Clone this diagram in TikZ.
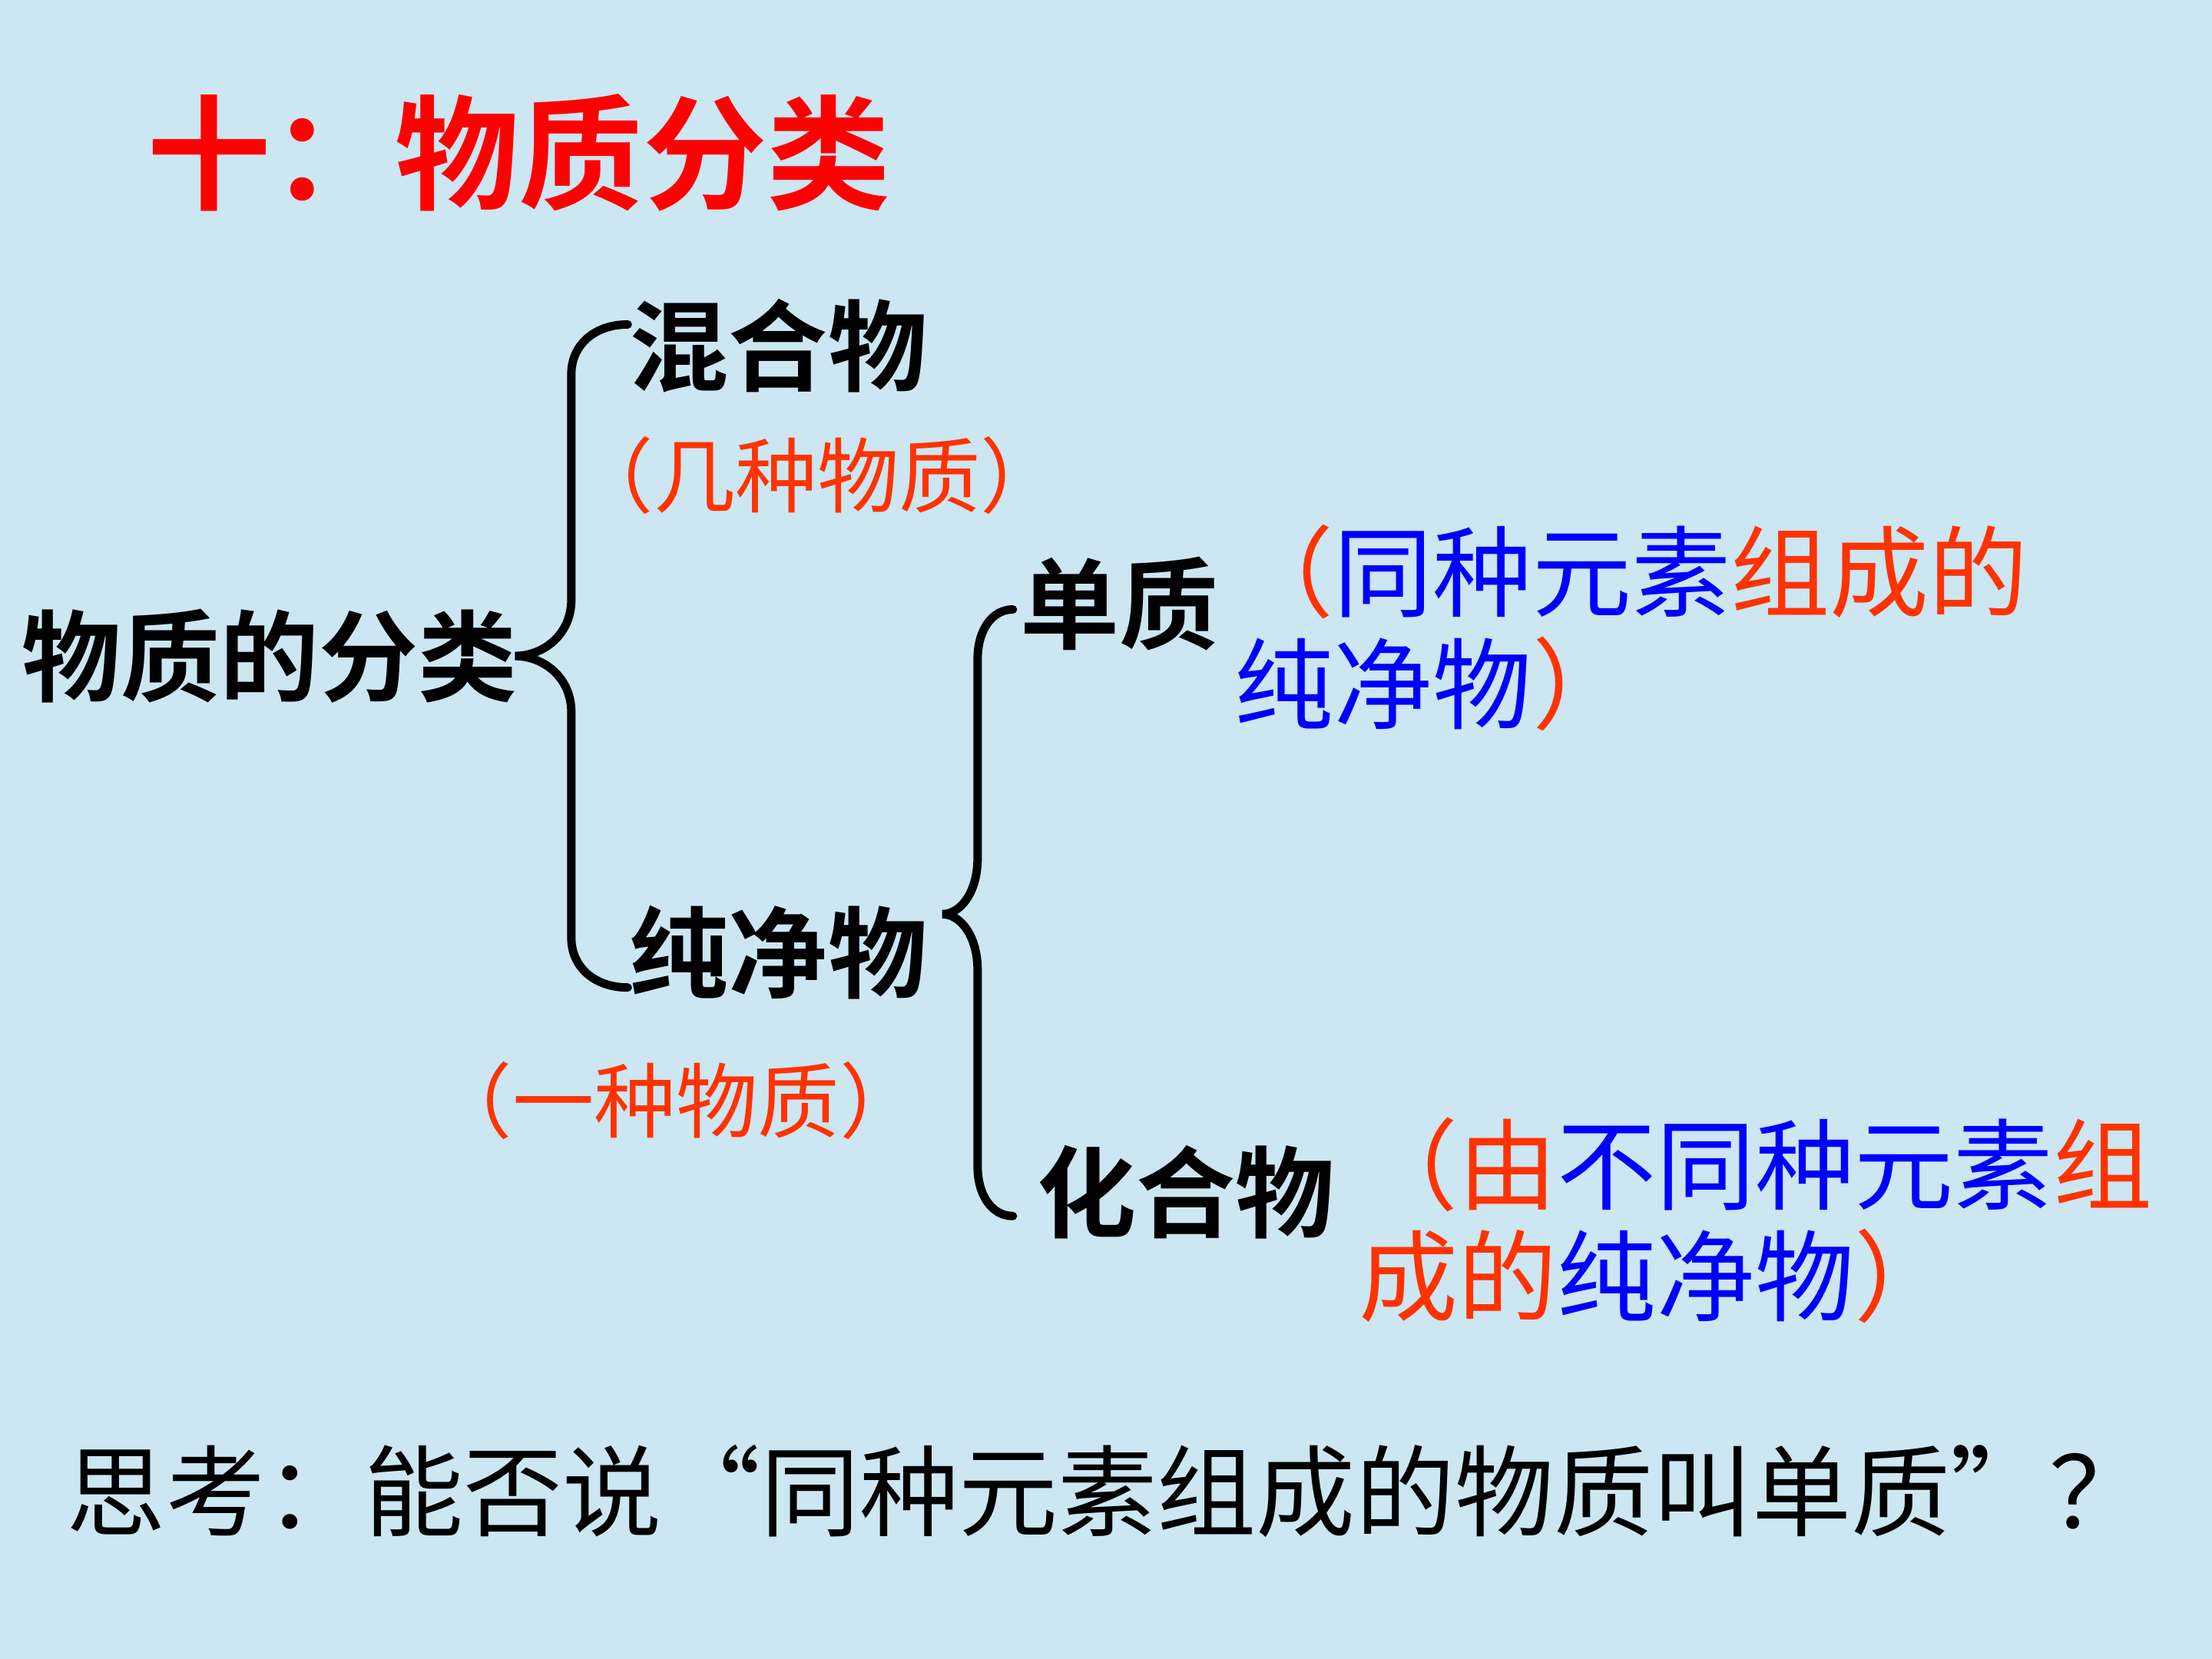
\documentclass[tikz,border=0pt]{standalone}
\usepackage{fontspec}
\usepackage{tikz}
\usetikzlibrary{calc}
\newfontfamily\cjk[BoldFont={Noto Sans CJK SC Bold}]{Noto Sans CJK SC}
\definecolor{slidebg}{RGB}{204,230,242}
\definecolor{titlered}{RGB}{255,0,0}
\definecolor{noteorange}{RGB}{255,51,0}
\definecolor{noteblue}{RGB}{0,0,255}

\begin{document}
\begin{tikzpicture}[x=.02cm,y=-.02cm,
  head/.style={inner sep=0pt,anchor=west,font=\cjk\bfseries\fontsize{40}{40}\selectfont},
  note/.style={inner sep=0pt,anchor=west,align=left,text=noteorange,font=\cjk\fontsize{40}{45}\selectfont},
  smallnote/.style={inner sep=0pt,anchor=west,text=noteorange,font=\cjk\fontsize{33}{33}\selectfont},
  brace/.style={line width=3.4pt,line cap=round}]
\fill[slidebg] (0,0) rectangle (1568,1176);
\useasboundingbox (0,0) rectangle (1568,1176);
% title
\node[inner sep=0pt,anchor=west,text=titlered,font=\cjk\bfseries\fontsize{50}{50}\selectfont] (title) at (104,108) {十：物质分类};
% tree
\node[head] (cls) at (15,465) {物质的分类};
\node[head] (mix) at (446,245) {混合物};
\node[smallnote] (mixnote) at (405,337) {（几种物质）};
\node[head] (pure) at (446,675) {纯净物};
\node[smallnote] (purenote) at (305,780) {（一种物质）};
\node[head] (elem) at (723,428) {单质};
\node[note] (elemnote) at (875,445) {（\textcolor{noteblue}{同种元素}组成的\\\textcolor{noteblue}{纯净物}）};
\node[head] (comp) at (735,845) {化合物};
\node[note] (compnote) at (963,865) {（由\textcolor{noteblue}{不同种元素}组\\成的\textcolor{noteblue}{纯净物}）};
% braces
\coordinate (t1) at (445,230); \coordinate (m1) at (365,465); \coordinate (e1) at (445,700);
\coordinate (t2) at (718,432); \coordinate (m2) at (668,648); \coordinate (e2) at (718,862);
\foreach \t/\m/\e/\w in {t1/m1/e1/40,t2/m2/e2/25}
  \draw[brace] (\t) .. controls +(-\w*0.6,0) and +(0,-20) .. ++(-\w,35) -- ($(\m)+(\w,-40)$) .. controls +(0,25) and +(\w*0.5,0) .. (\m) .. controls +(\w*0.5,0) and +(0,-25) .. ++(\w,40) -- ($(\e)+(-\w,-35)$) .. controls +(0,20) and +(-\w*0.6,0) .. (\e);
% question
\node[inner sep=0pt,anchor=west,font=\cjk\fontsize{40}{40}\selectfont] (think) at (47,1057) {思考：能否说“同种元素组成的物质叫单质”？};
\end{tikzpicture}
\end{document}
